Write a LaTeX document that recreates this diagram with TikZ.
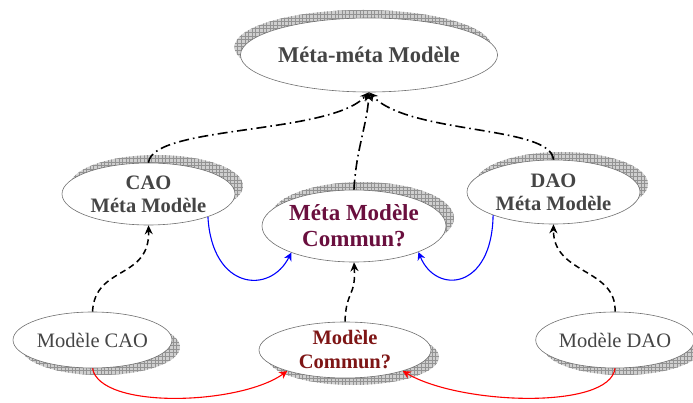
\documentclass[tikz,border=0pt]{standalone}
\usepackage{fontspec}
\setmainfont{Liberation Serif}
\usetikzlibrary{shapes.geometric,shadows,patterns,arrows.meta}
\definecolor{txtgray}{HTML}{454545}
\definecolor{plum}{HTML}{6A0F3E}
\definecolor{darkred}{HTML}{7E1515}
\definecolor{edgegray}{HTML}{707070}
% open square mesh used for the shadows
\pgfdeclarepatternformonly{meshgrid}{\pgfqpoint{-1pt}{-1pt}}{\pgfqpoint{4pt}{4pt}}{\pgfqpoint{3.6pt}{3.6pt}}{
  \pgfsetlinewidth{0.35pt}
  \pgfpathmoveto{\pgfqpoint{0pt}{0pt}}\pgfpathlineto{\pgfqpoint{0pt}{3.7pt}}
  \pgfpathmoveto{\pgfqpoint{0pt}{0pt}}\pgfpathlineto{\pgfqpoint{3.7pt}{0pt}}
  \pgfusepath{stroke}}
\tikzset{
  model/.style={ellipse, draw=edgegray, line width=0.6pt, fill=white, inner sep=0pt,
    align=center, text=txtgray},
  shadefill/.style={fill=gray!38},
  shadegrid/.style={pattern=meshgrid, pattern color=gray!85},
  shUR/.style={general shadow={shadow xshift=8pt, shadow yshift=8pt, shadefill},
               general shadow={shadow xshift=8pt, shadow yshift=8pt, shadegrid}},
  shDR/.style={general shadow={shadow xshift=8pt, shadow yshift=-7pt, shadefill},
               general shadow={shadow xshift=8pt, shadow yshift=-7pt, shadegrid}},
  shUL/.style={general shadow={shadow xshift=-6pt, shadow yshift=8pt, shadefill},
               general shadow={shadow xshift=-6pt, shadow yshift=8pt, shadegrid}},
  conform/.style={-{Stealth[length=9pt,width=8pt]}, line width=1.6pt,
    dash pattern=on 10pt off 4pt on 1.6pt off 4pt},
  instance/.style={-{Stealth[length=9pt,width=8pt]}, line width=1.5pt,
    dash pattern=on 6pt off 4pt},
  mapping/.style={-{Stealth[length=8pt,width=8pt]}, line width=1.1pt},
}
\begin{document}
\begin{tikzpicture}[x=1pt, y=-1pt]
\useasboundingbox (0,0) rectangle (693,403);

% meta-meta level
\node[model, shUL, minimum width=214pt, minimum height=74pt,
      font=\fontsize{22.5}{26}\selectfont\bfseries] (mm) at (369,55) {Méta-méta Modèle};

% meta-model level
\node[model, shUR, minimum width=173pt, minimum height=62pt,
      font=\fontsize{20.5}{23}\selectfont\bfseries] (cm) at (148.5,194) {CAO\\Méta Modèle};
\node[model, shUR, minimum width=184pt, minimum height=72pt, text=plum,
      font=\fontsize{23}{26}\selectfont\bfseries] (mc) at (354,226) {Méta Modèle\\Commun?};
\node[model, shUR, minimum width=173pt, minimum height=64pt,
      font=\fontsize{20.5}{23}\selectfont\bfseries] (dm) at (553.5,192) {DAO\\Méta Modèle};

% model level
\node[model, shDR, minimum width=159pt, minimum height=56pt,
      font=\fontsize{20.5}{23}\selectfont] (lc) at (92.5,340) {Modèle CAO};
\node[model, shDR, minimum width=172pt, minimum height=56pt, text=darkred,
      font=\fontsize{20.5}{24}\selectfont\bfseries] (lm) at (345,350) {Modèle\\Commun?};
\node[model, shDR, minimum width=154pt, minimum height=56pt,
      font=\fontsize{20.5}{23}\selectfont] (ld) at (615,340) {Modèle DAO};

% conformance to the meta-meta model
\draw[conform] (cm.north) .. controls (152,125) and (330,135) .. (mm.south);
\draw[conform] (dm.north) .. controls (551,125) and (410,135) .. (mm.south);
\draw[conform] (mc.north) .. controls (356,150) and (367,125) .. (mm.south);

% conformance to the meta models
\draw[instance] (lc.north) .. controls (95,265) and (150,280) .. (cm.south);
\draw[instance] (lm.north) .. controls (346,290) and (356,297) .. (mc.south);
\draw[instance] (ld.north) .. controls (617,268) and (553,275) .. (dm.south);

% meta model mappings
\draw[mapping, blue] (cm.-21) .. controls (212,290) and (270,295) .. (mc.-157);
\draw[mapping, blue] (dm.-159) .. controls (492,290) and (436,295) .. (mc.-22);

% model mappings
\draw[mapping, red] (lc.south) .. controls (100,410) and (240,405) .. (lm.-160);
\draw[mapping, red] (ld.south) .. controls (610,410) and (460,405) .. (lm.-20);
\end{tikzpicture}
\end{document}
